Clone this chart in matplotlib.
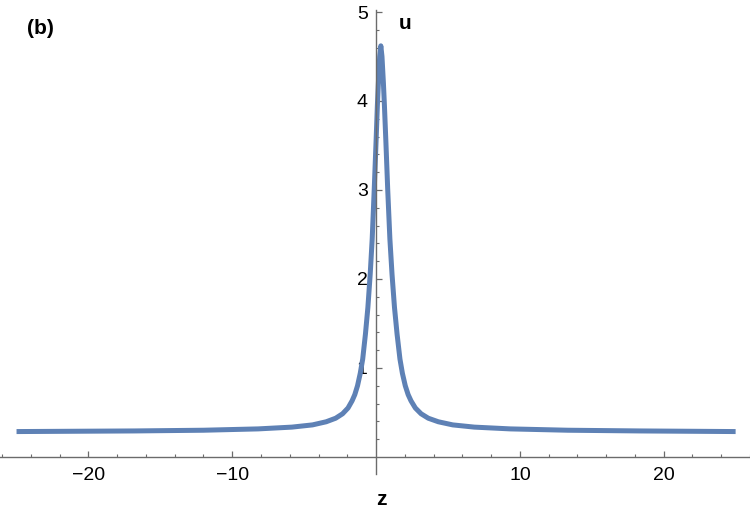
import matplotlib
matplotlib.use("Agg")
import matplotlib.pyplot as plt
from matplotlib.ticker import FixedLocator, FuncFormatter

# values
z_vals = [-25, -16.8, -12.0, -8.2, -5.85, -4.42, -3.47, -2.81, -2.33, -1.95,
          -1.67, -1.48, -1.29, -1.10, -0.93, -0.74, -0.57, -0.41, -0.27, -0.13,
          0.0, 0.09, 0.16, 0.25, 0.33,
          0.41, 0.51, 0.58, 0.68, 0.81, 0.96, 1.11, 1.28, 1.46, 1.66, 1.83,
          2.03, 2.23, 2.43, 2.73, 3.13, 3.63, 4.33, 5.33, 6.83, 9.33, 13.33,
          18.33, 25]
u_vals = [0.285, 0.292, 0.30, 0.315, 0.335, 0.36, 0.395, 0.435, 0.485, 0.55,
          0.63, 0.70, 0.80, 0.94, 1.10, 1.38, 1.68, 2.05, 2.45, 3.0,
          3.55, 3.95, 4.2, 4.5, 4.62,
          4.5, 4.2, 3.95, 3.55, 3.0, 2.45, 2.05, 1.68, 1.38, 1.10, 0.94,
          0.80, 0.70, 0.63, 0.55, 0.485, 0.435, 0.395, 0.36, 0.335, 0.315, 0.30,
          0.292, 0.285]

x_major = [-20, -10, 10, 20]
x_minor = [-26, -24, -22, -18, -16, -14, -12, -8, -6, -4, -2, 2, 4, 6, 8,
           12, 14, 16, 18, 22, 24, 26]
y_major = [1, 2, 3, 4, 5]
y_minor = [0.2, 0.4, 0.6, 0.8, 1.2, 1.4, 1.6, 1.8, 2.2, 2.4, 2.6, 2.8,
           3.2, 3.4, 3.6, 3.8, 4.2, 4.4, 4.6, 4.8]

plt.rcParams['font.family'] = ['Liberation Sans', 'DejaVu Sans']

fig = plt.figure(figsize=(7.5, 5.29), dpi=100)
ax = fig.add_axes([0, 0, 1, 1])
ax.patch.set_alpha(0)

line_color = '#5E81B5'
axis_color = '#6b6b6b'

ax.plot(z_vals, u_vals, color=line_color, lw=3.6, solid_capstyle='butt',
        solid_joinstyle='round')

ax.set_xlim(-26.15, 26.0)
ax.set_ylim(-0.81, 5.135)

for s in ['top', 'right']:
    ax.spines[s].set_visible(False)
ax.spines['left'].set_position(('data', 0))
ax.spines['bottom'].set_position(('data', 0))
ax.spines['left'].set_bounds(-0.19, 5.02)
ax.spines['bottom'].set_bounds(-26.15, 26.0)
for s in ['left', 'bottom']:
    ax.spines[s].set_color(axis_color)
    ax.spines[s].set_linewidth(1.0)

ax.xaxis.set_major_locator(FixedLocator(x_major))
ax.xaxis.set_minor_locator(FixedLocator(x_minor))
ax.yaxis.set_major_locator(FixedLocator(y_major))
ax.yaxis.set_minor_locator(FixedLocator(y_minor))

fmt = FuncFormatter(lambda v, p: ('\u2212%d' % abs(v)) if v < 0 else '%d' % v)
ax.xaxis.set_major_formatter(fmt)
ax.yaxis.set_major_formatter(fmt)

ax.tick_params(axis='both', which='major', direction='in', length=4.0,
               width=0.9, color=axis_color, labelsize=14, labelcolor='black')
ax.tick_params(axis='both', which='minor', direction='in', length=2.4,
               width=0.8, color=axis_color)
ax.tick_params(axis='x', which='major', pad=7)
ax.tick_params(axis='y', which='major', pad=6)

ax.text(2.0, 4.87, 'u', fontsize=15, fontweight='bold',
        ha='center', va='center')
ax.text(0.4, -0.48, 'z', fontsize=15, fontweight='bold',
        ha='center', va='center')
fig.text(40 / 750, 1 - 29 / 529, '(b)', fontsize=15, fontweight='bold',
         ha='center', va='center')

fig.savefig('out.png', dpi=100)
